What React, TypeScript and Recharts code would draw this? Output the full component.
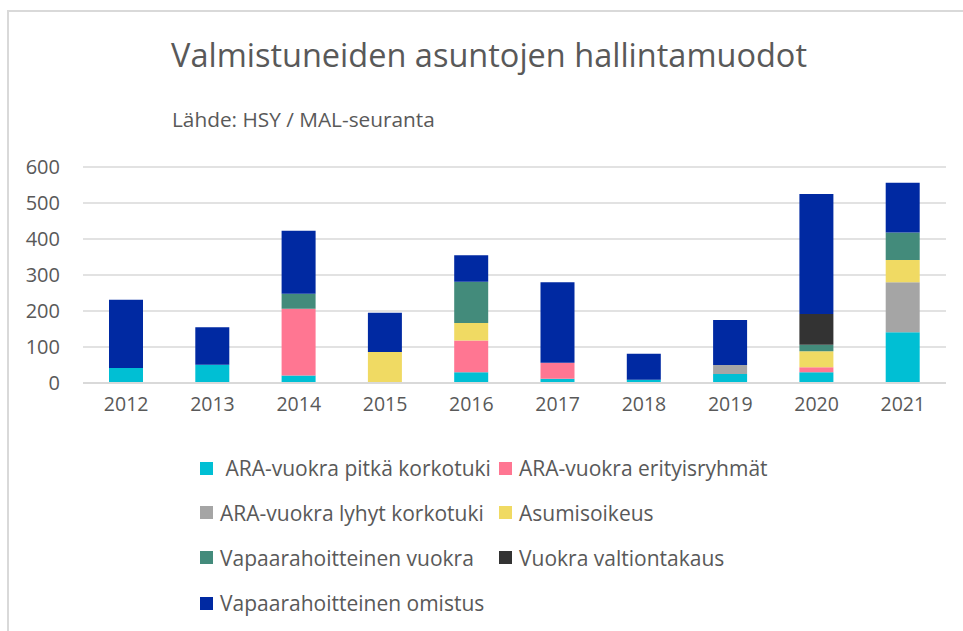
import { BarChart, Bar, XAxis, YAxis, CartesianGrid } from 'recharts';

const years = ['2012', '2013', '2014', '2015', '2016', '2017', '2018', '2019', '2020', '2021'];

const pitkaKorkotuki = [42, 51, 21, 0, 30, 12, 9, 25, 30, 141];
const erityisryhmat = [0, 0, 185, 0, 88, 44, 0, 0, 14, 0];
const lyhytKorkotuki = [0, 0, 0, 0, 0, 0, 0, 25, 0, 139];
const asumisoikeus = [0, 0, 0, 86, 49, 0, 0, 0, 44, 62];
const vapaaVuokra = [0, 0, 42, 0, 114, 0, 0, 0, 18, 76];
const valtiontakaus = [0, 0, 0, 0, 0, 0, 0, 0, 86, 0];
const vapaaOmistus = [189, 104, 175, 109, 74, 224, 72, 125, 333, 138];

const yTicks = [0, 100, 200, 300, 400, 500, 600];

const series = [
  { key: 'pitka', name: ' ARA-vuokra pitkä korkotuki', color: '#00bfd4', values: pitkaKorkotuki },
  { key: 'erityis', name: 'ARA-vuokra erityisryhmät', color: '#ff7692', values: erityisryhmat },
  { key: 'lyhyt', name: 'ARA-vuokra lyhyt korkotuki', color: '#a5a5a5', values: lyhytKorkotuki },
  { key: 'aso', name: 'Asumisoikeus', color: '#f0da63', values: asumisoikeus },
  { key: 'vvuokra', name: 'Vapaarahoitteinen vuokra', color: '#438b7b', values: vapaaVuokra },
  { key: 'takaus', name: 'Vuokra valtiontakaus', color: '#333333', values: valtiontakaus },
  { key: 'omistus', name: 'Vapaarahoitteinen omistus', color: '#0029a2', values: vapaaOmistus },
];

const data = years.map((year, i) => {
  const row: Record<string, string | number> = { year };
  series.forEach((s) => {
    row[s.key] = s.values[i];
  });
  return row;
});

const FONT = '"Open Sans", Lato, sans-serif';
const TEXT = '#595959';
const legendRows = [468, 512.5, 557.5, 603];

export default function App() {
  return (
    <div style={{ position: 'absolute', left: 0, top: 0, width: 963, height: 631, background: '#fff', fontFamily: FONT, overflow: 'hidden' }}>
      {/* chart frame */}
      <div style={{ position: 'absolute', left: 7, top: 10, width: 980, height: 640, borderTop: '2px solid #d9d9d9', borderLeft: '2px solid #d9d9d9' }} />

      <div style={{ position: 'absolute', left: 171, top: 32, fontSize: 32.5, color: TEXT, whiteSpace: 'nowrap' }}>
        Valmistuneiden asuntojen hallintamuodot
      </div>
      <div style={{ position: 'absolute', left: 172, top: 105, fontSize: 20.8, color: TEXT, whiteSpace: 'nowrap' }}>
        Lähde: HSY / MAL-seuranta
      </div>

      <div style={{ position: 'absolute', left: 0, top: 0 }}>
        <BarChart width={963} height={440} data={data} margin={{ top: 167, right: 17, bottom: 0, left: 0 }} barSize={34}>
          <CartesianGrid vertical={false} stroke="#d9d9d9" strokeWidth={1.5} />
          <XAxis
            dataKey="year"
            height={57}
            tickLine={false}
            tickSize={0}
            tickMargin={14}
            axisLine={{ stroke: '#d9d9d9', strokeWidth: 2 }}
            tick={{ fill: TEXT, fontSize: 19.5, fontFamily: FONT }}
          />
          <YAxis
            width={83}
            domain={[0, 600]}
            ticks={yTicks}
            axisLine={false}
            tickLine={false}
            tickSize={0}
            tickMargin={23}
            tick={{ fill: TEXT, fontSize: 20, fontFamily: FONT }}
          />
          {series.map((s) => (
            <Bar key={s.key} dataKey={s.key} name={s.name} stackId="a" fill={s.color} isAnimationActive={false} />
          ))}
        </BarChart>
      </div>

      {/* legend */}
      {series.map((s, i) => {
        const col = i % 2;
        const rowY = legendRows[Math.floor(i / 2)];
        const markerX = col === 0 ? 200 : 499;
        return (
          <div key={s.key} style={{ position: 'absolute', left: markerX, top: rowY - 16, height: 32, display: 'flex', alignItems: 'center', whiteSpace: 'pre', color: TEXT, fontSize: 21 }}>
            <span style={{ display: 'inline-block', width: 13, height: 13, background: s.color, marginRight: 7 }} />
            <span>{s.name}</span>
          </div>
        );
      })}
    </div>
  );
}
